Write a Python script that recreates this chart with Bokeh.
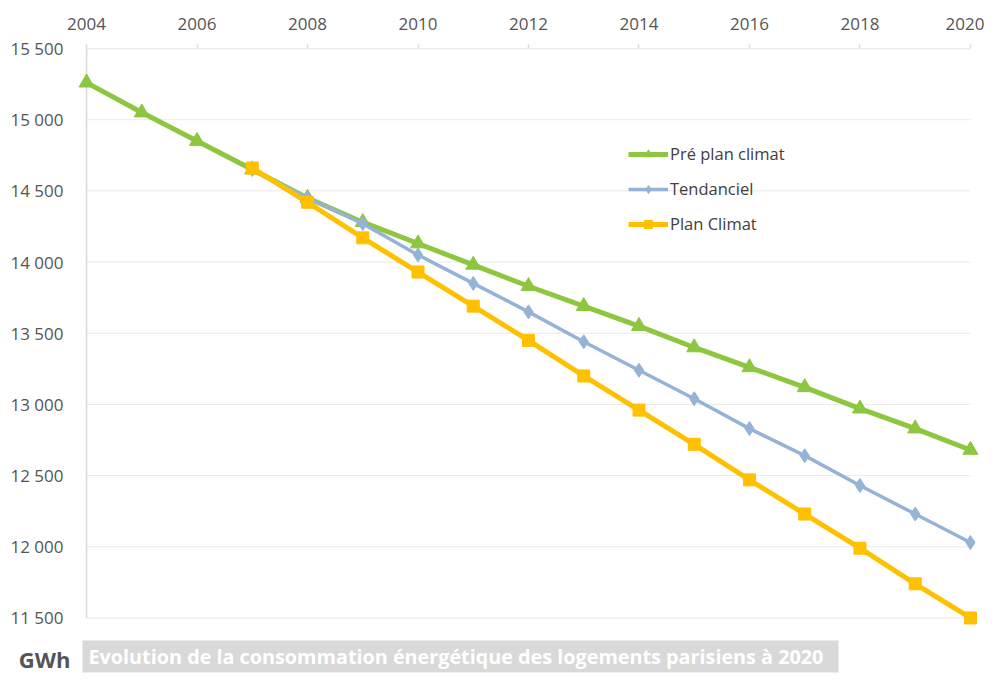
from bokeh.plotting import figure
from bokeh.models import Legend, LegendItem, Range1d, FixedTicker
from bokeh.layouts import column
from bokeh.core.properties import value
from bokeh.embed import file_html
from bokeh.resources import INLINE

years_all = [2004, 2005, 2006, 2007, 2008, 2009, 2010, 2011, 2012, 2013, 2014, 2015, 2016, 2017, 2018, 2019, 2020]
pre_plan = [15260, 15050, 14850, 14650, 14450, 14280, 14130, 13980, 13830, 13690, 13550, 13400, 13260, 13120, 12970, 12830, 12680]
years_proj = [2007, 2008, 2009, 2010, 2011, 2012, 2013, 2014, 2015, 2016, 2017, 2018, 2019, 2020]
tendanciel = [14650, 14450, 14270, 14050, 13850, 13650, 13440, 13240, 13040, 12830, 12640, 12430, 12230, 12030]
plan_climat = [14660, 14420, 14170, 13930, 13690, 13450, 13200, 12960, 12720, 12470, 12230, 11990, 11740, 11500]

x_ticks = [2004, 2006, 2008, 2010, 2012, 2014, 2016, 2018, 2020]
y_ticks = [11500, 12000, 12500, 13000, 13500, 14000, 14500, 15000, 15500]
y_tick_labels = ["11 500", "12 000", "12 500", "13 000", "13 500", "14 000", "14 500", "15 000", "15 500"]
series_names = ["Pré plan climat", "Tendanciel", "Plan Climat"]
title_text = "Evolution de la consommation énergétique des logements parisiens à 2020"
unit_text = "GWh"

GREEN = "#8DC63F"
BLUE = "#95B3D7"
YELLOW = "#FFC000"
GRID = "#D9D9D9"
TXT = "#555555"
FONT = "Open Sans"

p = figure(frame_width=906, frame_height=578, output_backend="svg", toolbar_location=None,
           x_axis_location="above",
           x_range=Range1d(years_all[0] - 0.2, years_all[-1] + 0.2),
           y_range=Range1d(y_ticks[0] - 60, y_ticks[-1]),
           min_border_left=75, min_border_right=3, min_border_top=48, min_border_bottom=6)
p.outline_line_color = None
p.background_fill_color = "white"

p.xgrid.visible = False
p.ygrid.visible = False
p.segment(x0=[years_all[0]] * len(y_ticks[:-1]), x1=[years_all[-1]] * len(y_ticks[:-1]),
          y0=y_ticks[:-1], y1=y_ticks[:-1], line_color="#EBEBEB", line_width=1)
p.segment(x0=[years_all[0]], x1=[years_all[-1]], y0=[y_ticks[-1]], y1=[y_ticks[-1]],
          line_color=GRID, line_width=1.5)
p.segment(x0=[years_all[0]], x1=[years_all[0]], y0=[y_ticks[0]], y1=[y_ticks[-1]],
          line_color=GRID, line_width=1.5)

xa = p.xaxis[0]
xa.ticker = FixedTicker(ticks=x_ticks)
xa.axis_line_color = None
xa.major_tick_line_color = GRID
xa.major_tick_line_width = 1.5
xa.major_tick_in = 0
xa.major_tick_out = 4
xa.minor_tick_line_color = None
xa.major_label_text_font = FONT
xa.major_label_text_font_size = "17px"
xa.major_label_text_color = TXT
xa.major_label_standoff = 15

ya = p.yaxis[0]
ya.ticker = FixedTicker(ticks=y_ticks)
ya.major_label_overrides = {t: l for t, l in zip(y_ticks, y_tick_labels)}
ya.axis_line_color = None
ya.major_tick_line_color = None
ya.minor_tick_line_color = None
ya.major_label_text_font = FONT
ya.major_label_text_font_size = "17px"
ya.major_label_text_color = TXT
ya.major_label_standoff = 6

l1 = p.line(years_all, pre_plan, line_color=GREEN, line_width=5)
m1 = p.scatter(years_all, pre_plan, marker="triangle", size=15, fill_color=GREEN, line_color=GREEN)
l2 = p.line(years_proj, tendanciel, line_color=BLUE, line_width=3.5)
m2 = p.scatter(years_proj, tendanciel, marker="diamond", size=14, fill_color=BLUE, line_color=BLUE)
l3 = p.line(years_proj, plan_climat, line_color=YELLOW, line_width=5)
m3 = p.scatter(years_proj, plan_climat, marker="square", size=12, fill_color=YELLOW, line_color=YELLOW)

legend = Legend(items=[LegendItem(label=series_names[0], renderers=[l1, m1]),
                       LegendItem(label=series_names[1], renderers=[l2, m2]),
                       LegendItem(label=series_names[2], renderers=[l3, m3])],
                location=(553, 391), border_line_color=None, background_fill_alpha=0,
                label_text_font=FONT, label_text_font_size="16.5px", label_text_color="#404040",
                glyph_width=40, glyph_height=20, spacing=12, padding=4, label_standoff=2)
p.add_layout(legend)

# caption strip below the chart (x in page pixels)
c = figure(width=984, height=52, output_backend="svg", toolbar_location=None,
           x_range=Range1d(75, 981), y_range=Range1d(0, 52),
           min_border_left=75, min_border_right=3, min_border_top=0, min_border_bottom=0,
           outline_line_color=None)
c.xaxis.visible = False
c.grid.visible = False
cy = c.yaxis[0]
cy.ticker = FixedTicker(ticks=[])
cy.bounds = (0, 26)
cy.axis_line_color = None
cy.major_tick_line_color = None
cy.minor_tick_line_color = None
cy.axis_label = unit_text
cy.axis_label_orientation = "horizontal"
cy.axis_label_text_font = FONT
cy.axis_label_text_font_size = "22px"
cy.axis_label_text_font_style = "bold"
cy.axis_label_text_color = TXT
cy.axis_label_standoff = 5
c.quad(left=[82], right=[838], bottom=[12], top=[44], fill_color="#D9D9D9", line_color=None)
c.text(x=[88], y=[28], text=[title_text], text_font=value(FONT), text_font_size="19.8px",
       text_font_style="bold", text_color="white", text_baseline="middle")

layout = column(p, c, spacing=0)
open("out.html", "w").write(file_html(layout, INLINE))
